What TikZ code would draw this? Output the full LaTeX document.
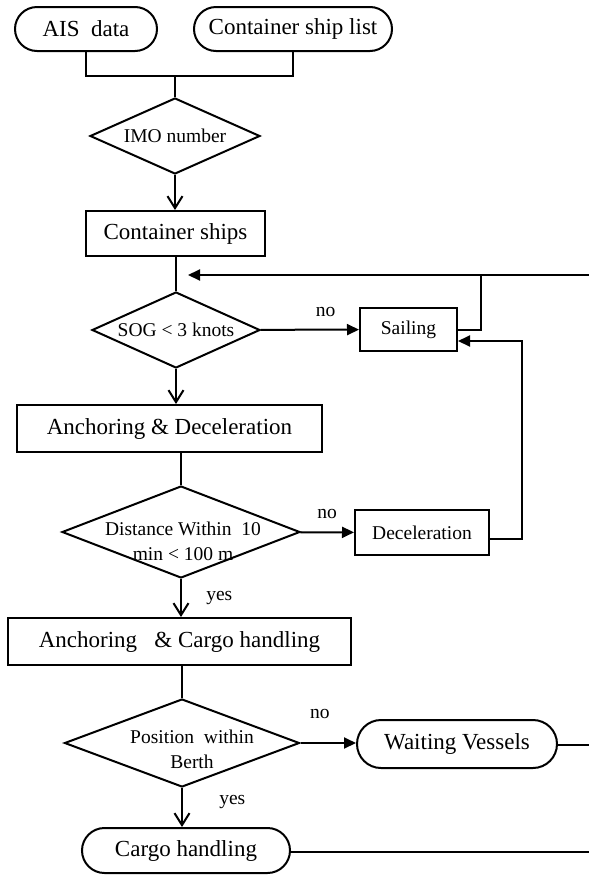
\documentclass[tikz,border=0pt]{standalone}
\usepackage{fontspec}
\setmainfont{Liberation Serif}
\usepackage{tikz}
\usetikzlibrary{shapes.geometric, shapes.misc, arrows.meta, positioning}

\begin{document}
\begin{tikzpicture}[x=1pt, y=-1pt, line width=2pt]
        % Setup the styles for the shapes and the arrows
        \tikzset{big text/.style={font=\fontsize{23}{27}\selectfont},
                 small text/.style={font=\fontsize{19.5}{25}\selectfont},
                 end style/.style={rounded rectangle,
                                   draw,
                                   big text,
                                   inner sep=0pt,
                                   minimum height=44pt},
                 box style/.style={rectangle,
                                   draw,
                                   big text,
                                   inner sep=0pt},
                 test style/.style={diamond,
                                    draw,
                                    inner sep=0pt},
                 test text/.style={small text, align=center},
                 down arrow/.style={-{Straight Barb[length=12pt, width=15pt]}},
                 side arrow/.style={-{Triangle[length=12pt, width=11pt]}}}
        \useasboundingbox (0, 0) rectangle (589, 876);

        % Draw the nodes
        \node[end style, minimum width=142pt] at (86, 29) (ais) {AIS\ \ data};
        \node[end style, minimum width=198pt] at (293, 29) (shiplist) {Container ship list};
        \node[test style, minimum width=170pt, minimum height=76pt,
              label={[test text, name=imotext]center:IMO number}] at (175, 136) (imo) {};
        \node[box style, minimum width=179pt, minimum height=45pt] at (175.5, 233.5) (ships) {Container ships};
        \node[test style, minimum width=168pt, minimum height=76pt,
              label={[test text, name=sogtext]center:SOG < 3 knots}] at (176, 330) (sog) {};
        \node[box style, small text, minimum width=97pt, minimum height=43pt] at (408.5, 329.5) (sailing) {Sailing};
        \node[box style, minimum width=305pt, minimum height=47pt] at (169.5, 428.5) (ancdec) {Anchoring \& Deceleration};
        \node[test style, minimum width=238pt, minimum height=92pt,
              label={[test text, name=disttext, xshift=2pt, yshift=-9pt]center:{Distance Within\ \ 10\\min < 100 m}}] at (181, 532) (dist) {};
        \node[box style, small text, minimum width=134pt, minimum height=45pt] at (422, 532.5) (decel) {Deceleration};
        \node[box style, minimum width=343pt, minimum height=47pt] at (179.5, 641.5) (anccargo) {Anchoring\ \ \ \& Cargo handling};
        \node[test style, minimum width=235pt, minimum height=88pt,
              label={[test text, name=postext, xshift=10pt, yshift=-6pt]center:{Position\ \ within\\Berth}}] at (182, 743) (pos) {};
        \node[end style, minimum width=200pt, minimum height=48pt] at (457, 744) (waiting) {Waiting Vessels};
        \node[end style, minimum width=208pt, minimum height=45pt] at (186, 850.5) (cargo) {Cargo handling};

        % Connect the nodes
        \coordinate (join) at (175, 76);
        \coordinate (loop in) at (188, 275);
        \coordinate (loop top) at (481, 275);
        \coordinate (loop edge) at (589, 275);
        \coordinate (back up) at (522, 341);
        \coordinate (wait edge) at (589, 745);
        \coordinate (cargo edge) at (589, 852);

        \draw (ais) |- (join) -| (shiplist);
        \draw (join) -- (imo);
        \draw[down arrow] (imo) -- (imo |- ships.north);
        \draw (sog |- ships.south) -- (sog);
        \draw[side arrow] (loop edge) -- (loop in);
        \draw (sailing) -| (loop top);
        \draw[side arrow] (sog) -- node[small text, pos=0.66, above=9pt] (nosail) {no} (sailing);
        \draw[down arrow] (sog) -- (sog |- ancdec.north);
        \draw (dist |- ancdec.south) -- (dist);
        \draw[side arrow] (dist) -- node[small text, above=9pt] (nodecel) {no} (decel);
        \draw[side arrow] ([yshift=-6pt]decel.east) -| (back up) -- ([yshift=-11.5pt]sailing.east);
        \draw[down arrow] (dist) -- node[small text, right=21pt] (yesdist) {yes} (dist |- anccargo.north);
        \draw (pos |- anccargo.south) -- (pos);
        \draw[side arrow] (pos.east) -- node[small text, pos=0.35, above=20pt] (nowait) {no} (pos.east -| waiting.west);
        \draw[down arrow] (pos) -- node[small text, right=33pt, yshift=5.5pt] (yescargo) {yes} (pos |- cargo.north);
        \draw (waiting.east |- wait edge) -- (wait edge);
        \draw (cargo.east |- cargo edge) -- (cargo edge);
\end{tikzpicture}
\end{document}
